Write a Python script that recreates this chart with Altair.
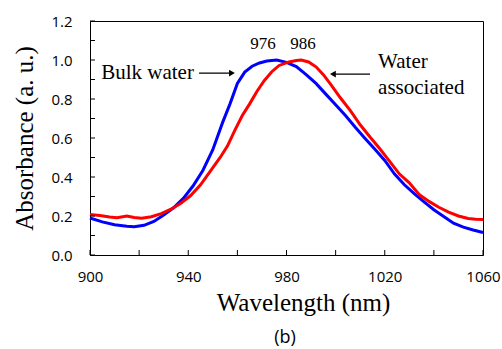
import altair as alt
import pandas as pd

# ---- data ----
blue_wl = [900, 905, 910, 915, 918, 922, 926, 930, 934, 938, 942, 946, 950, 954, 957, 960,
           963, 966, 969, 972, 976, 980, 984, 988, 992, 996, 1000, 1004, 1008, 1012, 1016,
           1020, 1024, 1028, 1032, 1036, 1040, 1044, 1048, 1052, 1056, 1060]
blue_abs = [0.190, 0.170, 0.155, 0.148, 0.145, 0.152, 0.172, 0.205, 0.242, 0.290, 0.355,
            0.435, 0.540, 0.680, 0.775, 0.880, 0.938, 0.968, 0.985, 0.995, 1.000, 0.988,
            0.966, 0.925, 0.880, 0.825, 0.770, 0.715, 0.655, 0.598, 0.542, 0.485, 0.415,
            0.360, 0.315, 0.272, 0.232, 0.198, 0.163, 0.143, 0.128, 0.115]
red_wl = [900, 904, 908, 911, 915, 918, 921, 925, 929, 933, 937, 941, 945, 949, 953, 956,
          959, 962, 965, 968, 971, 974, 977, 981, 984, 986, 989, 992, 995, 998, 1002, 1006,
          1010, 1014, 1018, 1022, 1026, 1030, 1034, 1038, 1042, 1046, 1050, 1054, 1057, 1060]
red_abs = [0.208, 0.203, 0.195, 0.191, 0.200, 0.192, 0.188, 0.196, 0.212, 0.235, 0.265,
           0.305, 0.360, 0.430, 0.500, 0.560, 0.640, 0.715, 0.775, 0.840, 0.895, 0.940,
           0.972, 0.990, 0.997, 1.000, 0.990, 0.965, 0.925, 0.875, 0.805, 0.740, 0.668,
           0.605, 0.545, 0.480, 0.415, 0.370, 0.310, 0.275, 0.245, 0.220, 0.200, 0.187,
           0.183, 0.182]

x_ticks = [900, 920, 940, 960, 980, 1000, 1020, 1040, 1060]
x_labels = [900, 940, 980, 1020, 1060]
y_ticks = [0.0, 0.1, 0.2, 0.3, 0.4, 0.5, 0.6, 0.7, 0.8, 0.9, 1.0, 1.1, 1.2]
y_labels = [0.0, 0.2, 0.4, 0.6, 0.8, 1.0, 1.2]

# annotation texts
label_text = ["Bulk water", "Water", "associated"]
label_x = [942.3, 1017.3, 1017.3]
label_y = [0.933, 0.99, 0.856]
label_align = ["right", "left", "left"]
peak_text = ["976", "986"]
peak_x = [970.4, 986.7]
peak_y = [1.082, 1.082]
arrow_x1 = [944.4, 1014.0]
arrow_x2 = [957.8, 998.9]
arrow_y = [0.933, 0.928]
arrow_shape = ["triangle-right", "triangle-left"]

# ---- build tables ----
df = pd.concat([
    pd.DataFrame({"wl": blue_wl, "abs": blue_abs, "series": "Bulk water"}),
    pd.DataFrame({"wl": red_wl, "abs": red_abs, "series": "Water associated"}),
])
lab_df = pd.DataFrame({"t": label_text, "x": label_x, "y": label_y, "a": label_align})
peak_df = pd.DataFrame({"t": peak_text, "x": peak_x, "y": peak_y})
arr_df = pd.DataFrame({"x1": arrow_x1, "x2": arrow_x2, "y": arrow_y, "shape": arrow_shape})
xt_df = pd.DataFrame({"v": x_ticks})
yt_df = pd.DataFrame({"v": y_ticks})

W, H = 393, 234
xs = alt.Scale(domain=[900, 1060], nice=False, zero=False)
ys = alt.Scale(domain=[0, 1.2], nice=False)

SANS = "Open Sans"
SERIF = "Times New Roman, Liberation Serif, Tinos, DejaVu Serif, serif"

x_axis = alt.Axis(
    values=x_labels, format="d",
    labelOverlap=False, labelFlush=False,
    tickSize=0, labelPadding=14, labelFont=SANS, labelFontSize=15, labelColor="black",
    domainColor="black", grid=False, title="Wavelength (nm)", titleFont=SERIF,
    titleFontSize=25, titleFontWeight="normal", titleColor="black",
    titleX=213, titleY=55, titleAlign="center", titleBaseline="alphabetic",
)
y_axis = alt.Axis(
    values=y_labels, format=".1f",
    labelOverlap=False, labelFlush=False,
    tickSize=0, labelPadding=18, labelFont=SANS, labelFontSize=15, labelColor="black",
    domainColor="black", grid=False, title="Absorbance (a. u.)", titleFont=SERIF,
    titleFontSize=25, titleFontWeight="normal", titleColor="black",
    titleX=-66, titleY=117, titleAlign="center", titleBaseline="middle",
)


def X(f):
    return alt.X(f, scale=xs, axis=x_axis)


def Y(f):
    return alt.Y(f, scale=ys, axis=y_axis)


lines = alt.Chart(df).mark_line(strokeWidth=3).encode(
    x=X("wl:Q"), y=Y("abs:Q"),
    color=alt.Color("series:N", scale=alt.Scale(domain=["Bulk water", "Water associated"],
                                                range=["#0000FF", "#FF0000"]), legend=None),
)

xticks = alt.Chart(xt_df).mark_rule(color="black", strokeWidth=1).encode(
    x=X("v:Q"), y=alt.value(H), y2=alt.value(H - 5))
yticks = alt.Chart(yt_df).mark_rule(color="black", strokeWidth=1).encode(
    y=Y("v:Q"), x=alt.value(0), x2=alt.value(5))

labels_r = alt.Chart(lab_df[lab_df.a == "right"]).mark_text(
    font=SERIF, fontSize=21, align="right", baseline="middle", color="black").encode(
    x=X("x:Q"), y=Y("y:Q"), text="t:N")
labels_l = alt.Chart(lab_df[lab_df.a == "left"]).mark_text(
    font=SERIF, fontSize=21, align="left", baseline="middle", color="black").encode(
    x=X("x:Q"), y=Y("y:Q"), text="t:N")
peaks = alt.Chart(peak_df).mark_text(
    font=SERIF, fontSize=17, align="center", baseline="middle", color="black").encode(
    x=X("x:Q"), y=Y("y:Q"), text="t:N")

shafts = alt.Chart(arr_df).mark_rule(color="black", strokeWidth=1.3).encode(
    x=X("x1:Q"), x2="x2:Q", y=Y("y:Q"))
heads = alt.Chart(arr_df).mark_point(filled=True, color="black", opacity=1, size=45).encode(
    x=X("x2:Q"), y=Y("y:Q"), shape=alt.Shape("shape:N", scale=None))

b_label = alt.Chart(pd.DataFrame({"t": ["(b)"], "x": [979.4], "y": [-0.426]})).mark_text(
    font=SANS, fontSize=18, align="center", baseline="middle", color="black").encode(
    x=X("x:Q"), y=Y("y:Q"), text="t:N")

chart = alt.layer(lines, xticks, yticks, labels_r, labels_l, peaks, shafts, heads, b_label).properties(
    width=W, height=H,
    autosize=alt.AutoSizeParams(type="none"),
    padding={"left": 90, "top": 21, "right": 19, "bottom": 94},
    background="white",
).configure_view(stroke="black", strokeWidth=1)

chart.save("out.html", embed_options={"renderer": "svg", "actions": False})
